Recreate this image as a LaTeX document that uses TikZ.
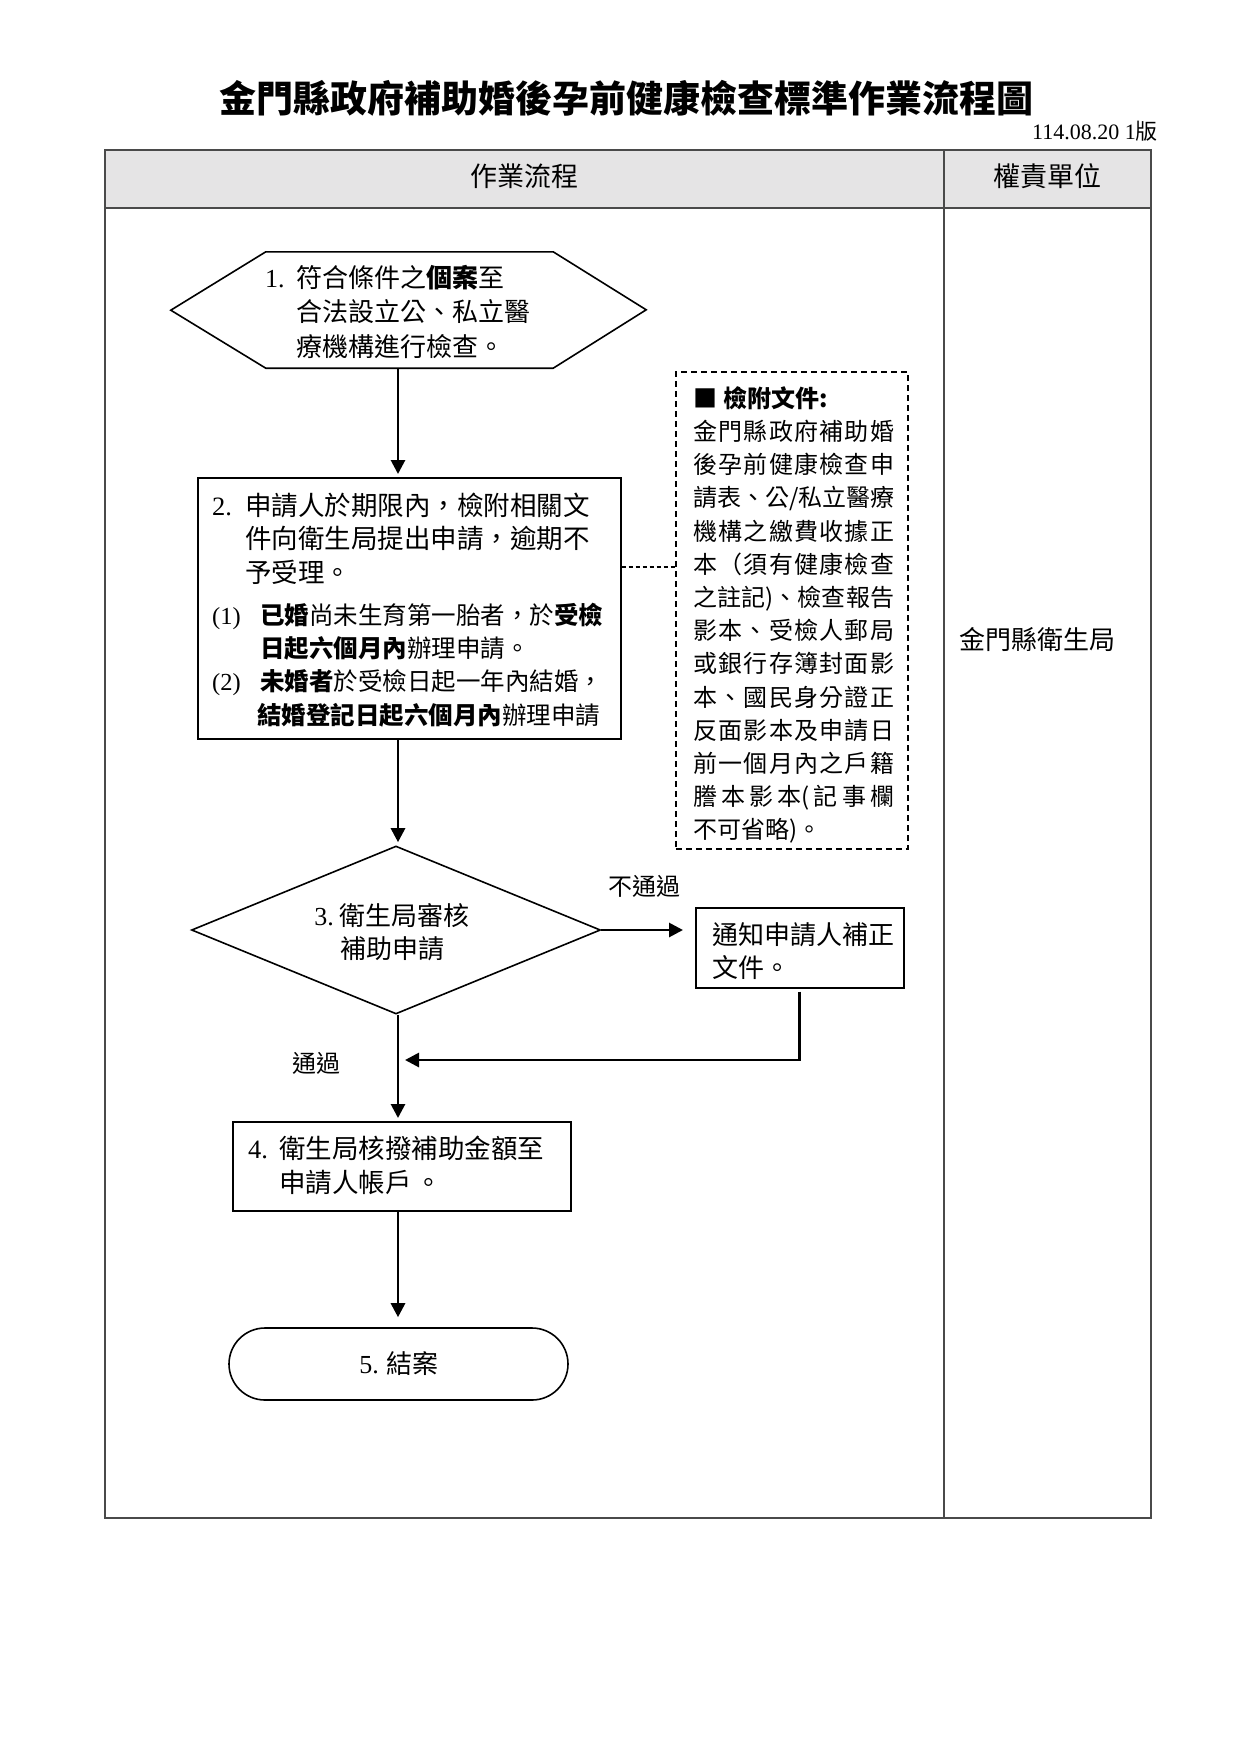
\documentclass[tikz,border=0pt]{standalone}
\usepackage{fontspec}
\setmainfont{Noto Sans CJK TC}
\newfontfamily\lat{Liberation Serif}
\usetikzlibrary{shapes.geometric,arrows.meta,calc}
\definecolor{hdr}{HTML}{E5E4E5}
\definecolor{tline}{HTML}{4A4A4A}
\newcommand{\fsz}[2]{\fontsize{#1}{#2}\selectfont}
\newcommand{\jl}[1]{\makebox[201pt][s]{\spaceskip=0pt plus 1fil\relax #1}}
\newcommand{\stt}{\rule{0pt}{0.9em}}
\begin{document}
\begin{tikzpicture}[x=1pt,y=-1pt,
  box/.style={draw,line width=1.6pt,inner sep=0,anchor=north west},
  arr/.style={line width=2.8pt,-{Triangle[length=14pt,width=14pt]}},
  txt/.style={anchor=north west,inner sep=0,align=left},
  lbl/.style={inner sep=0}]
\useasboundingbox[fill=white] (0,0) rectangle (1240,1754);
% title and version
\node[lbl,font={\fsz{37}{40}\bfseries}] (title) at (626,98) {金門縣政府補助婚後孕前健康檢查標準作業流程圖};
\node[lbl,anchor=east,font={\fsz{22}{24}}] (ver) at (1158,131) {\lat 114.08.20 1\normalfont 版};
% table
\node[draw=tline,line width=1.5pt,fill=hdr,minimum width=1046,minimum height=58,anchor=north west,inner sep=0] (hdr) at (104,149) {};
\node[draw=tline,line width=1.5pt,minimum width=1046,minimum height=1368,anchor=north west,inner sep=0] (tab) at (104,149) {};
\coordinate (divt) at (944,149);
\coordinate (divb) at (944,1517);
\draw[tline,line width=1.5pt] (divt) -- (divb);
\node[lbl,font={\fsz{27}{30}}] (h1) at (524,176.5) {作業流程};
\node[lbl,font={\fsz{27}{30}}] (h2) at (1047,176.5) {權責單位};
\node[lbl,font={\fsz{26}{30}}] (unit) at (1037,639) {金門縣衛生局};
% node 1 hexagon
\node[inner sep=0,minimum width=287,minimum height=116] (n1) at (409.5,310) {};
\draw[line width=1.6pt] (n1.north west) -- (n1.north east) -- ++(93,58) -- (n1.south east) -- (n1.south west) -- ++(-95,-58) -- cycle;
\node[txt,font={\fsz{26}{34.5}}] (t1) at (265,263.5) {\stt\makebox[31pt][l]{\lat 1.}符合條件之\textbf{個案}至\\
\hspace*{31pt}合法設立公、私立醫\\
\hspace*{31pt}療機構進行檢查。};
% node 2
\node[box,minimum width=423,minimum height=261] (n2) at (197,477) {};
\node[txt,font={\fsz{26.5}{33.4}}] (t2) at (212,491.2) {\stt\makebox[33pt][l]{\lat 2.}申請人於期限內，檢附相關文\\
\hspace*{33pt}件向衛生局提出申請，逾期不\\
\hspace*{33pt}予受理。\\[8.7pt]
\fsz{24.5}{33.4}\makebox[48pt][l]{\lat (1)}\textbf{已婚}尚未生育第一胎者，於\textbf{受檢}\\
\fsz{24.5}{33.4}\hspace*{48pt}\textbf{日起六個月內}辦理申請。\\
\fsz{24.5}{33.4}\makebox[48pt][l]{\lat (2)}\textbf{未婚者}於受檢日起一年內結婚，\\
\fsz{24.5}{33.4}\hspace*{45pt}\textbf{結婚登記日起六個月內}辦理申請};
% dashed attachments box
\node[box,dash pattern=on 6pt off 4pt,minimum width=232,minimum height=477] (nd) at (675,371) {};
\node[txt,font={\fsz{24}{33.2}}] (td) at (693,385.5) {\stt\makebox[30pt][l]{■}\textbf{檢附文件:}\\
\jl{金 門 縣 政 府 補 助 婚}\\
\jl{後 孕 前 健 康 檢 查 申}\\
\jl{請 表 、 公/私 立 醫 療}\\
\jl{機 構 之 繳 費 收 據 正}\\
\jl{本 （ 須 有 健 康 檢 查}\\
\jl{之 註 記)、 檢 查 報 告}\\
\jl{影 本 、 受 檢 人 郵 局}\\
\jl{或 銀 行 存 簿 封 面 影}\\
\jl{本 、 國 民 身 分 證 正}\\
\jl{反 面 影 本 及 申 請 日}\\
\jl{前 一 個 月 內 之 戶 籍}\\
\jl{謄 本 影 本( 記 事 欄}\\
不可省略)。};
\coordinate (dashy) at (0,567);
\draw[line width=1.2pt,dash pattern=on 4pt off 3pt] (n2.east |- dashy) -- (nd.west |- dashy);
% node 3 diamond
\node[diamond,draw,line width=1.6pt,inner sep=0,minimum width=409,minimum height=168] (d3) at (396,930) {};
\node[lbl,align=center,font={\fsz{26}{33.4}}] (t3) at (392,932) {{\lat 3.}\hspace{6pt}衛生局審核\\補助申請};
% side box
\node[box,minimum width=208,minimum height=80] (nb) at (695,907) {};
\node[txt,font={\fsz{26}{33}}] (tb) at (712,920.5) {\stt 通知申請人補正\\文件。};
\node[lbl,font={\fsz{24}{26}}] (nt) at (644,886) {不通過};
\node[lbl,font={\fsz{24}{26}}] (tg) at (316,1063) {通過};
% node 4
\node[box,minimum width=338,minimum height=89] (n4) at (232,1121) {};
\node[txt,font={\fsz{26.5}{34}}] (t4) at (248,1134.2) {\stt\makebox[31pt][l]{\lat 4.}衛生局核撥補助金額至\\
\hspace*{31pt}申請人帳戶\hspace{4pt}。};
% node 5
\node[draw,line width=1.6pt,rounded corners=36pt,minimum width=339,minimum height=72,inner sep=0] (n5) at (398.5,1364) {};
\node[lbl,font={\fsz{26}{30}}] (t5) at (399,1364) {{\lat 5.}\hspace{8pt}結案};
% connectors
\coordinate (mx) at (398,0);
\coordinate (ret) at (405,1060);
\draw[arr,shorten >=3pt] (n1.south -| mx) -- (n2.north -| mx);
\draw[arr,shorten >=3pt] (n2.south -| mx) -- (d3.north -| mx);
\draw[arr,shorten >=12pt] (d3.east) -- (d3.east -| nb.west);
\draw[arr,shorten <=3pt] (nb.south) |- (ret);
\draw[arr,shorten >=3pt] (d3.south -| mx) -- (n4.north -| mx);
\draw[arr,shorten >=10pt] (n4.south -| mx) -- (n5.north -| mx);
\end{tikzpicture}
\end{document}
